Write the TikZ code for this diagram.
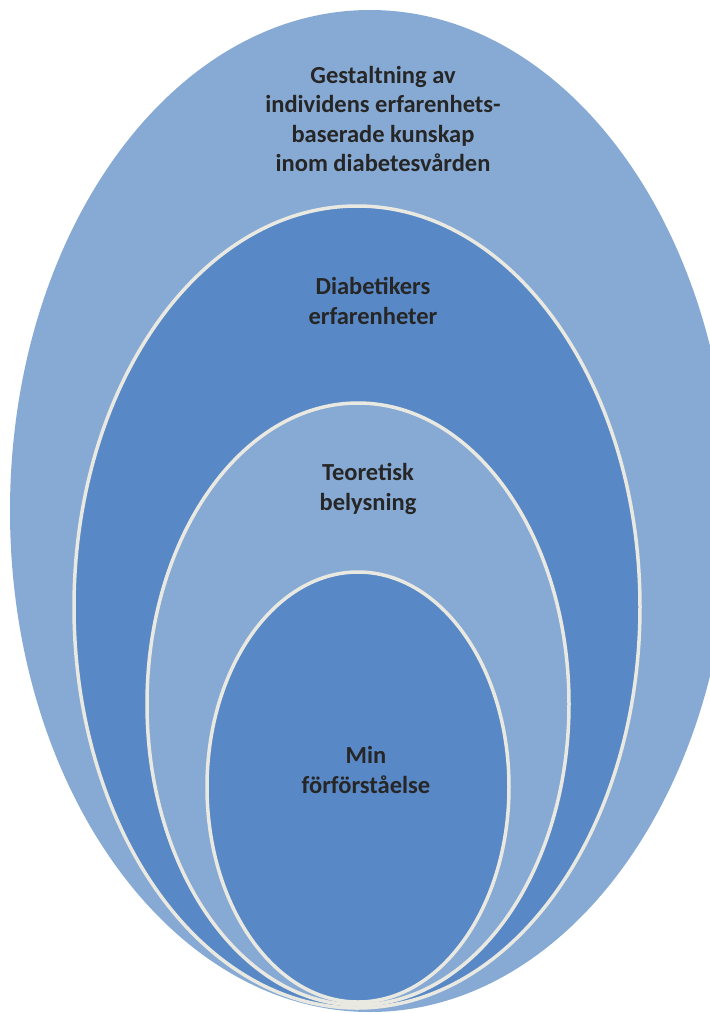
\documentclass[tikz,border=0pt]{standalone}
\usepackage{fontspec}
\setmainfont{Carlito}
\usepackage{tikz}

\definecolor{lightblue}{HTML}{86AAD4}
\definecolor{darkblue}{HTML}{5888C5}
\definecolor{rimgrey}{HTML}{E9E9E1}
\definecolor{textgrey}{HTML}{262626}

\begin{document}
\begin{tikzpicture}[x=1pt, y=-1pt]

% Fix the page to the size of the reference
\useasboundingbox (0,0) rectangle (710,1013);

% Define styles for the rings and the labels
\tikzstyle{ring} = [draw=rimgrey, line width=3.5pt]
\tikzstyle{label} = [align=center, font=\bfseries\fontsize{24.5}{29.5}\selectfont, text=textgrey]

% Rings, from the outside in
\fill[lightblue] (370,511) ellipse [x radius=360, y radius=501];
\filldraw[ring, fill=darkblue] (357,607) ellipse [x radius=283, y radius=401];
\filldraw[ring, fill=lightblue] (358,704) ellipse [x radius=211, y radius=301];
\filldraw[ring, fill=darkblue] (358,787) ellipse [x radius=151, y radius=215];

% Labels
\node[label] (gestalt) at (383,119) {Gestaltning av\\individens erfarenhets-\\baserade kunskap\\inom diabetesvården};
\node[label] (diab) at (373,301) {Diabetikers\\erfarenheter};
\node[label] (teori) at (368,489) {Teoretisk\\belysning};
\node[label] (min) at (366,770) {Min\\förförståelse};

\end{tikzpicture}
\end{document}
